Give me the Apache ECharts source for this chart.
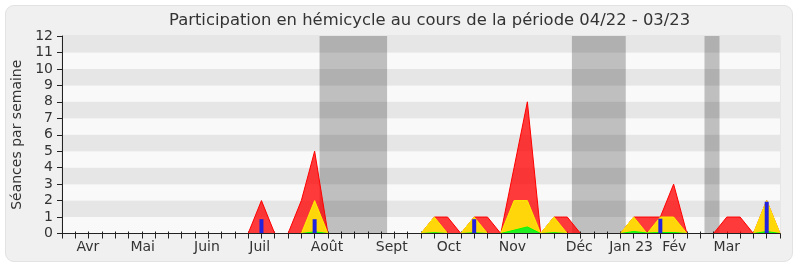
<!DOCTYPE html>
<html><head><meta charset="utf-8">
<script src="https://cdn.jsdelivr.net/npm/echarts@6/dist/echarts.min.js"></script>
<style>
html,body{margin:0;padding:0;background:#fff;}
#frame{position:absolute;left:5px;top:5px;width:786px;height:255px;border:1px solid #e2e2e2;border-radius:9px;background:#f0f0f0;}
#chart{position:absolute;left:0;top:0;width:800px;height:267px;}
</style></head>
<body>
<div id="frame"></div>
<div id="chart"></div>
<script>
// Week index 0..54 (one point per week, 04/22 - 03/23)
const weeks = [0,1,2,3,4,5,6,7,8,9,10,11,12,13,14,15,16,17,18,19,20,21,22,23,24,25,26,27,28,29,30,31,32,33,34,35,36,37,38,39,40,41,42,43,44,45,46,47,48,49,50,51,52,53,54];
// Séances par semaine (red), présences (yellow), interventions (green), questions (blue bars)
const redValues    = [0,0,0,0,0,0,0,0,0,0,0,0,0,0,0,2,0,0,2,5,0,0,0,0,0,0,0,0,1,1,0,1,1,0,4,8,0,1,1,0,0,0,0,1,1,1,3,0,0,0,1,1,0,2,0];
const yellowValues = [0,0,0,0,0,0,0,0,0,0,0,0,0,0,0,0,0,0,0,2,0,0,0,0,0,0,0,0,1,0,0,1,0,0,2,2,0,1,0,0,0,0,0,1,0,1,1,0,0,0,0,0,0,2,0];
const greenValues  = [0,0,0,0,0,0,0,0,0,0,0,0,0,0,0,0,0,0,0,0.1,0,0,0,0,0,0,0,0,0.05,0,0,0.05,0,0,0.2,0.4,0,0.05,0,0,0,0,0,0.12,0.03,0.06,0.06,0,0,0,0,0,0,0.12,0];
const blueValues   = [0,0,0,0,0,0,0,0,0,0,0,0,0,0,0,0.87,0,0,0,0.87,0,0,0,0,0,0,0,0,0,0,0,0.87,0,0,0,0,0,0,0,0,0,0,0,0,0,0.9,0,0,0,0,0,0,0,1.93,0];
// Month tick labels and their position (in weeks)
const monthLabels = ['Avr','Mai','Juin','Juil','Août','Sept','Oct','Nov','Déc','Jan 23','Fév','Mar'];
const monthPos    = [1.94,6.07,10.9,14.87,19.93,24.8,29.1,33.87,38.9,42.8,46.05,50.0];
// Vacation periods (in weeks)
const vacations = [[19.37,24.45],[38.35,42.4],[48.32,49.45]];

const pairs = vals => weeks.map((w,i)=>[w, vals[i]]);
const FONT = "'DejaVu Sans',sans-serif";
const chart = echarts.init(document.getElementById('chart'));
chart.setOption({
  animation:false,
  title:{text:'Participation en hémicycle au cours de la période 04/22 - 03/23', left:164, top:8,
    textStyle:{fontFamily:FONT,fontSize:16.4,fontWeight:'normal',color:'#333'}},
  grid:{left:62,right:20,top:36,bottom:33.5,show:true,borderColor:'#dddddd',borderWidth:1,backgroundColor:'transparent'},
  xAxis:[{
    type:'value',min:0,max:54,position:'bottom',z:10,
    axisLine:{show:true,onZero:false,lineStyle:{color:'#222',width:1}},
    axisTick:{show:true,customValues:weeks,length:5,lineStyle:{color:'#222'}},
    axisLabel:{customValues:monthPos,margin:7,fontFamily:FONT,fontSize:14,color:'#333',
      formatter:v=>{const k=monthPos.indexOf(v);return k>=0?monthLabels[k]:'';}},
    splitLine:{show:false}
  },{
    type:'value',min:0,max:54,position:'top',
    axisLine:{show:false},
    axisTick:{show:true,customValues:weeks.slice(1,54),length:2,lineStyle:{color:'#222'}},
    axisLabel:{show:false},splitLine:{show:false}
  }],
  yAxis:{
    type:'value',min:0,max:12,interval:1,
    name:'Séances par semaine',nameLocation:'middle',nameGap:38,
    nameTextStyle:{fontFamily:FONT,fontSize:14,color:'#333'},
    axisLine:{show:true,lineStyle:{color:'#222'}},
    axisTick:{show:true,length:5,lineStyle:{color:'#222'}},
    axisLabel:{margin:9,fontFamily:FONT,fontSize:14,color:'#333'},
    splitLine:{show:false},
    splitArea:{show:true,areaStyle:{color:['#f9f9f9','#e6e6e6']}}
  },
  series:[
    {type:'line',name:'red',data:pairs(redValues),symbol:'none',z:2,
     lineStyle:{color:'#ff0000',width:1},areaStyle:{color:'rgba(255,0,0,0.77)',opacity:1},
     markArea:{silent:true,itemStyle:{color:'rgba(0,0,0,0.23)'},
       data:vacations.map(v=>[{xAxis:v[0]},{xAxis:v[1]}])}},
    {type:'line',name:'yellow',data:pairs(yellowValues),symbol:'none',z:3,
     lineStyle:{color:'#ffee00',width:1},areaStyle:{color:'#ffd60a',opacity:1}},
    {type:'line',name:'green',data:pairs(greenValues),symbol:'none',z:4,
     lineStyle:{color:'#00ff00',width:1},areaStyle:{color:'#22ee22',opacity:1}},
    {type:'bar',name:'blue',data:pairs(blueValues),barWidth:4,z:6,
     itemStyle:{color:'#2323dd'}}
  ]
});
</script>
</body></html>
